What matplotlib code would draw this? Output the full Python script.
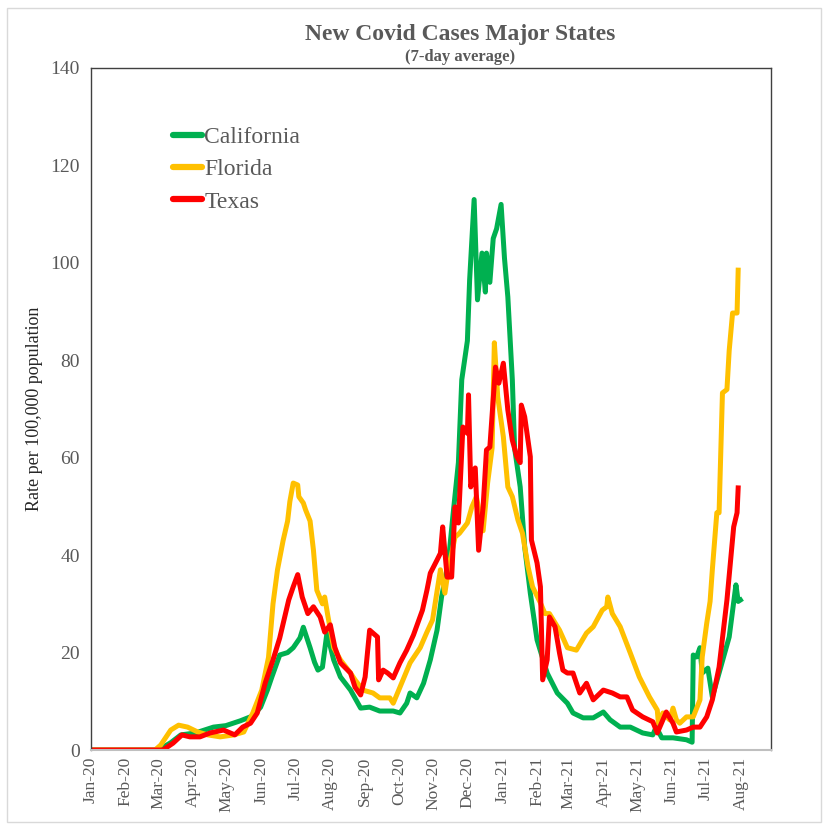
import matplotlib.pyplot as plt
import matplotlib.dates as mdates
import pandas as pd
from matplotlib.patches import Rectangle

# days since 2020-01-01, value (rate per 100,000)
ca_days = [0, 60, 71, 80, 93, 109, 120, 133, 144, 151, 157, 161, 168, 175, 180, 186, 189,
           195, 199, 202, 206, 210, 216, 222, 231, 240, 248, 257, 269, 275, 281, 284, 290,
           296, 302, 308, 312, 318, 322, 327, 330, 335, 337, 341, 344, 348, 351, 352, 355,
           358, 361, 365, 368, 371, 375, 377, 382, 386, 391, 397, 406, 415, 424, 429, 438,
           447, 456, 462, 471, 480, 491, 500, 503, 508, 518, 530, 535, 536, 539, 542, 544,
           549, 553, 559, 568, 574, 576, 578]
ca_vals = [0, 0, 1.5, 3.1, 3.5, 4.7, 5.0, 6.0, 7.0, 8.8, 12.3, 15.0, 19.5, 20.0, 21.0, 23.0,
           25.2, 21.0, 18.0, 16.4, 17.0, 24.0, 18.5, 15.0, 12.3, 8.6, 8.8, 8.0, 8.0, 7.6, 9.6,
           11.7, 10.7, 13.7, 18.5, 24.6, 31.4, 38.4, 47.8, 59.0, 76.0, 84.0, 96.5, 113.0, 92.4,
           102.0, 94.0, 102.0, 96.0, 105.0, 107.0, 112.0, 101.0, 93.0, 76.0, 62.0, 54.0, 41.7,
           32.2, 22.6, 15.8, 11.7, 9.6, 7.6, 6.6, 6.6, 7.8, 6.2, 4.7, 4.7, 3.5, 3.1, 4.7, 2.5,
           2.5, 2.1, 1.6, 19.5, 19.1, 21.0, 15.8, 16.8, 10.9, 15.8, 23.2, 33.9, 30.5, 30.8]

fl_days = [0, 57, 62, 71, 78, 86, 95, 104, 115, 127, 136, 144, 152, 158, 162, 166, 171, 175,
           177, 180, 184, 185, 189, 191, 195, 198, 201, 206, 208, 211, 216, 222, 231, 235, 242,
           251, 257, 266, 269, 275, 284, 293, 299, 304, 311, 315, 318, 324, 328, 335, 339, 343,
           349, 353, 357, 359, 362, 367, 371, 375, 380, 384, 389, 393, 400, 404, 408, 417, 424,
           432, 441, 447, 455, 459, 460, 464, 471, 480, 488, 497, 504, 505, 509, 515, 518, 521,
           524, 530, 536, 542, 544, 548, 551, 553, 557, 559, 562, 566, 568, 571, 575, 576]
fl_vals = [0, 0, 1.0, 4.1, 5.1, 4.7, 3.7, 3.1, 2.7, 3.1, 3.7, 7.6, 12.3, 19.0, 30.0, 37.0,
           43.0, 47.0, 51.0, 54.8, 54.4, 52.0, 50.7, 49.3, 47.0, 41.0, 32.8, 30.0, 31.4, 27.3,
           21.0, 18.5, 15.8, 14.4, 12.3, 11.7, 10.7, 10.7, 9.6, 12.9, 17.9, 21.0, 24.2, 26.7,
           37.0, 32.2, 37.0, 43.7, 44.5, 46.6, 49.9, 52.0, 45.0, 54.8, 62.0, 83.6, 72.5, 64.3,
           54.0, 52.0, 47.2, 44.5, 37.6, 33.5, 30.2, 28.0, 28.0, 24.6, 21.0, 20.5, 24.0, 25.3,
           28.7, 29.4, 31.4, 28.0, 25.3, 19.9, 15.0, 10.9, 8.2, 5.5, 7.6, 6.2, 8.6, 6.2, 5.5,
           6.8, 6.8, 10.3, 19.1, 26.0, 30.5, 37.0, 48.7, 48.7, 73.3, 74.0, 82.0, 89.7, 89.7, 98.5]

tx_days = [0, 64, 73, 81, 88, 97, 106, 118, 128, 135, 142, 148, 155, 162, 168, 176, 180, 184,
           188, 193, 198, 204, 208, 213, 217, 222, 231, 235, 240, 244, 248, 251, 255, 256, 260,
           264, 269, 275, 281, 287, 295, 299, 302, 308, 311, 313, 317, 321, 324, 327, 331, 335,
           336, 338, 342, 345, 349, 352, 355, 360, 363, 367, 371, 375, 379, 382, 383, 386, 391,
           392, 397, 400, 402, 406, 408, 413, 417, 420, 424, 429, 435, 441, 447, 456, 464, 471,
           477, 482, 491, 500, 504, 512, 518, 521, 530, 536, 542, 548, 553, 559, 566, 572, 575,
           576]
tx_vals = [0, 0, 1.4, 3.1, 2.7, 2.7, 3.5, 4.1, 3.1, 4.7, 5.5, 7.6, 13.7, 18.5, 23.0, 30.8,
           33.5, 36.0, 31.4, 28.0, 29.4, 27.3, 24.2, 25.7, 21.1, 17.9, 15.8, 12.9, 11.3, 15.0,
           24.6, 24.0, 23.2, 14.4, 16.4, 15.8, 14.8, 17.9, 20.5, 23.6, 28.7, 32.8, 36.3, 39.0,
           40.4, 45.8, 35.5, 35.5, 49.9, 46.6, 66.3, 65.0, 72.9, 54.0, 57.9, 41.0, 49.9, 61.6,
           62.2, 78.6, 75.3, 79.4, 69.8, 63.6, 60.2, 59.0, 70.8, 68.4, 60.2, 43.1, 38.4, 33.5,
           14.4, 18.5, 27.3, 25.3, 19.9, 16.4, 15.8, 15.8, 11.7, 13.7, 10.3, 12.3, 11.7, 10.9,
           10.9, 8.2, 6.8, 5.8, 3.5, 7.8, 5.5, 3.7, 4.1, 4.7, 4.7, 6.8, 10.3, 17.0, 30.8, 45.8,
           48.7, 53.8]

start = pd.Timestamp("2020-01-01")


def to_dates(days):
    return [start + pd.Timedelta(days=d) for d in days]


serif = ["Liberation Serif", "DejaVu Serif"]
grey = "#595959"

fig = plt.figure(figsize=(8.27, 8.25), dpi=100)
fig.patches.append(Rectangle((0.008, 0.004), 0.985, 0.986, transform=fig.transFigure,
                             fill=False, edgecolor="#d9d9d9", linewidth=1))
ax = fig.add_axes([0.110, 0.0909, 0.822, 0.8267])

lw = 3.6
ax.plot(to_dates(ca_days), ca_vals, color="#00B050", lw=lw, label="California",
        solid_joinstyle="round")
ax.plot(to_dates(fl_days), fl_vals, color="#FFC000", lw=lw, label="Florida",
        solid_joinstyle="round")
ax.plot(to_dates(tx_days), tx_vals, color="#FF0000", lw=lw, label="Texas",
        solid_joinstyle="round")

ax.set_ylim(0, 140)
ax.set_yticks(range(0, 141, 20))
ax.set_xlim(start, pd.Timestamp("2021-08-28"))
ax.xaxis.set_major_locator(mdates.MonthLocator())
ax.xaxis.set_major_formatter(mdates.DateFormatter("%b-%y"))

for lab in ax.get_xticklabels():
    lab.set_rotation(90)
    lab.set_family(serif)
    lab.set_fontsize(12.5)
    lab.set_color(grey)
for lab in ax.get_yticklabels():
    lab.set_family(serif)
    lab.set_fontsize(14)
    lab.set_color(grey)
ax.tick_params(axis="both", length=0)
ax.tick_params(axis="y", pad=8)
ax.tick_params(axis="x", pad=5)

for side in ["top", "right", "left"]:
    ax.spines[side].set_color("#404040")
    ax.spines[side].set_linewidth(1)
ax.spines["bottom"].set_color("#bfbfbf")
ax.spines["bottom"].set_linewidth(1.5)

ax.set_ylabel("Rate per 100,000 population", family=serif, fontsize=13, color="#262626",
              labelpad=5)

fig.text(0.556, 0.958, "New Covid Cases Major States", ha="center", va="center",
         family=serif, fontsize=17, fontweight="bold", color=grey)
fig.text(0.556, 0.931, "(7-day average)", ha="center", va="center",
         family=serif, fontsize=12, fontweight="bold", color=grey)

leg = ax.legend(loc="upper left", bbox_to_anchor=(0.09, 0.945), frameon=False,
                prop={"family": serif, "size": 17}, handlelength=1.2, handletextpad=0.1,
                labelspacing=0.45)
for t in leg.get_texts():
    t.set_color(grey)
for h in leg.get_lines():
    h.set_linewidth(4.5)
    h.set_solid_capstyle("round")

fig.savefig("out.png", dpi=100)
